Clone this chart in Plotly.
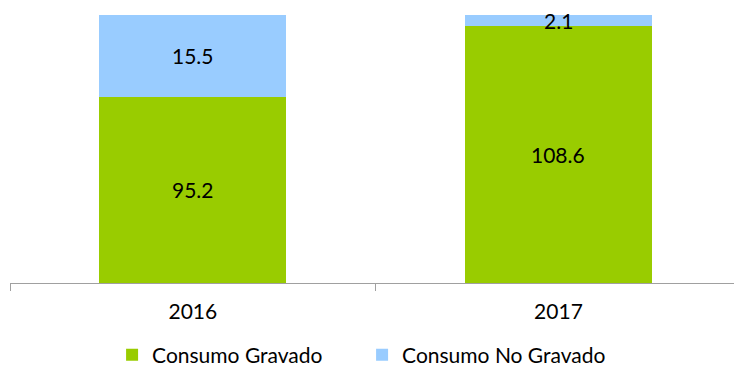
import plotly.graph_objects as go

years = ["2016", "2017"]
gravado = [95.2, 108.6]
no_gravado = [15.5, 2.1]

AXIS_MIN = 60
AXIS_MAX = 110.7
FONT = "Lato"
SIZE = 21

fig = go.Figure()
fig.add_trace(go.Bar(
    x=years, y=gravado, name="Consumo Gravado",
    marker=dict(color="#99CC00", line=dict(width=0)),
    width=0.512,
))
fig.add_trace(go.Bar(
    x=years, y=no_gravado, name="Consumo No Gravado",
    marker=dict(color="#99CCFF", line=dict(width=0)),
    width=0.512,
))

# value labels centred on the visible part of each segment
# (category positions given by index so "2016" is not read as a number)
for i, (g, n) in enumerate(zip(gravado, no_gravado)):
    lo = max(AXIS_MIN, 0)
    fig.add_annotation(x=i, y=(lo + g) / 2, text=f"{g:.1f}", showarrow=False,
                       font=dict(family=FONT, size=SIZE, color="#000000"))
    fig.add_annotation(x=i, y=g + n / 2, text=f"{n:.1f}", showarrow=False,
                       font=dict(family=FONT, size=SIZE, color="#000000"))

fig.update_layout(
    barmode="stack",
    width=734, height=370,
    margin=dict(l=10, r=0, t=15, b=87, autoexpand=False),
    paper_bgcolor="white", plot_bgcolor="white",
    font=dict(family=FONT, size=SIZE, color="#000000"),
    showlegend=True,
    legend=dict(
        orientation="h", x=0.141, xanchor="left",
        yref="container", y=15 / 370, yanchor="middle",
        font=dict(family=FONT, size=SIZE, color="#000000"),
        entrywidth=205, entrywidthmode="pixels",
        traceorder="normal", bgcolor="rgba(0,0,0,0)",
    ),
)
fig.update_xaxes(
    type="category", range=[-0.5, 1.48], automargin=False,
    showline=True, linecolor="#A0A0A0", linewidth=1,
    ticks="outside", tickson="boundaries", ticklen=7, tickcolor="#A0A0A0",
    ticklabelstandoff=10,
    showgrid=False, tickfont=dict(family=FONT, size=SIZE, color="#000000"),
)
fig.update_yaxes(
    range=[AXIS_MIN, AXIS_MAX], visible=False, showgrid=False, zeroline=False,
)

fig.write_html("out.html")
